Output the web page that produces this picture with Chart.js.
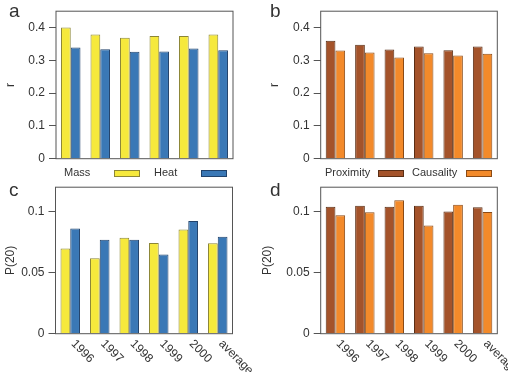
<!DOCTYPE html>
<html>
<head>
<meta charset="utf-8">
<script src="https://cdn.jsdelivr.net/npm/chart.js@4/dist/chart.umd.min.js"></script>
<style>
  html, body { margin: 0; padding: 0; background: #fff; }
  #wrap { position: relative; width: 508px; height: 372px; overflow: hidden; }
  .panel { position: absolute; }
</style>
</head>
<body>
<div id="wrap">
  <div class="panel" style="left:0;top:0;width:254px;height:186px"><canvas id="pa"></canvas></div>
  <div class="panel" style="left:254px;top:0;width:254px;height:186px"><canvas id="pb"></canvas></div>
  <div class="panel" style="left:0;top:176px;width:254px;height:196px"><canvas id="pc"></canvas></div>
  <div class="panel" style="left:254px;top:176px;width:254px;height:196px"><canvas id="pd"></canvas></div>
</div>
<script>
// data
const years = ['1996', '1997', '1998', '1999', '2000', 'average'];

const massR = [0.400, 0.379, 0.369, 0.374, 0.374, 0.379];
const heatR = [0.339, 0.334, 0.326, 0.327, 0.336, 0.331];
const proximityR = [0.360, 0.348, 0.333, 0.342, 0.331, 0.342];
const causalityR = [0.330, 0.324, 0.309, 0.322, 0.315, 0.320];

const massP = [0.0697, 0.0619, 0.0786, 0.0743, 0.0854, 0.0740];
const heatP = [0.0862, 0.0770, 0.0770, 0.0648, 0.0924, 0.0794];
const proximityP = [0.1040, 0.1049, 0.1040, 0.1049, 0.1000, 0.1035];
const causalityP = [0.0970, 0.0994, 0.1094, 0.0887, 0.1057, 0.0997];

const rTicks = [0, 0.1, 0.2, 0.3, 0.4];
const pTicks = [0, 0.05, 0.1];

const COLORS = {
  mass:      { fill: '#f6e93c', line: '#8c8636' },
  heat:      { fill: '#3a78b6', line: '#22436b' },
  proximity: { fill: '#a4532a', line: '#5a2e15' },
  causality: { fill: '#f38a2a', line: '#8a4a15' }
};

const FONT = '"Liberation Sans", Arial, Helvetica, sans-serif';
const TEXT = '#333';

Chart.defaults.font.family = FONT;
Chart.defaults.color = TEXT;

// frame, panel letter, axis title, rotated year labels, legend
const decorPlugin = {
  id: 'decor',
  afterDraw(chart) {
    const o = chart.options.plugins.decor;
    const { ctx, chartArea: a } = chart;
    ctx.save();

    ctx.strokeStyle = '#555';
    ctx.lineWidth = 1;
    ctx.strokeRect(a.left, a.top, a.right - a.left, a.bottom - a.top);

    ctx.fillStyle = TEXT;
    ctx.font = '19px ' + FONT;
    ctx.textAlign = 'left';
    ctx.textBaseline = 'alphabetic';
    ctx.fillText(o.letter, o.letterX, o.letterY);

    ctx.font = '12px ' + FONT;
    ctx.save();
    ctx.translate(o.titleX, (a.top + a.bottom) / 2);
    ctx.rotate(-Math.PI / 2);
    ctx.textAlign = 'center';
    ctx.textBaseline = 'middle';
    ctx.fillText(o.title, 0, 0);
    ctx.restore();

    if (o.yearLabels) {
      const x = chart.scales.x;
      years.forEach((lab, i) => {
        ctx.save();
        ctx.translate(x.getPixelForValue(i) + 7, a.bottom + 4);
        ctx.rotate(Math.PI / 4);
        ctx.textAlign = 'left';
        ctx.textBaseline = 'top';
        ctx.fillText(lab, 0, 0);
        ctx.restore();
      });
    }

    if (o.legend) {
      ctx.font = '11px ' + FONT;
      ctx.textBaseline = 'middle';
      chart.data.datasets.forEach((ds, i) => {
        const it = o.legend[i];
        ctx.fillStyle = TEXT;
        ctx.fillText(ds.label, it.textX, o.legendY);
        ctx.fillStyle = ds.backgroundColor;
        ctx.fillRect(it.boxX, o.legendY - 3, 25, 6);
        ctx.strokeStyle = ds.borderColor;
        ctx.strokeRect(it.boxX + 0.5, o.legendY - 3 + 0.5, 25, 6);
      });
    }
    ctx.restore();
  }
};

function makePanel(id, cfg) {
  const ds = (label, data, c) => ({
    label, data,
    backgroundColor: c.fill,
    borderColor: c.line,
    borderWidth: 1,
    barPercentage: 1,
    categoryPercentage: 0.66
  });

  new Chart(document.getElementById(id), {
    type: 'bar',
    data: {
      labels: years,
      datasets: [ds(cfg.names[0], cfg.first, cfg.colors[0]), ds(cfg.names[1], cfg.second, cfg.colors[1])]
    },
    options: {
      responsive: true,
      maintainAspectRatio: false,
      animation: false,
      layout: { padding: { top: cfg.top, right: cfg.right, bottom: 0, left: 0 } },
      plugins: {
        legend: { display: false },
        tooltip: { enabled: false },
        decor: cfg.decor
      },
      scales: {
        x: {
          grid: { display: false },
          border: { display: false },
          ticks: { display: false },
          afterFit: s => { s.height = cfg.xHeight; }
        },
        y: {
          min: 0,
          max: cfg.max,
          grid: { drawOnChartArea: false, drawTicks: true, tickLength: 7, color: '#555' },
          border: { display: false },
          ticks: { padding: 4, font: { size: 12 }, color: TEXT, callback: v => String(v) },
          afterBuildTicks: s => { s.ticks = cfg.ticks.map(v => ({ value: v })); },
          afterFit: s => { s.width = cfg.left; }
        }
      }
    },
    plugins: [decorPlugin]
  });
}

makePanel('pa', {
  names: ['Mass', 'Heat'], first: massR, second: heatR,
  colors: [COLORS.mass, COLORS.heat],
  max: 0.45, ticks: rTicks,
  left: 56, right: 21, top: 10, xHeight: 186 - 158.7,
  decor: {
    letter: 'a', letterX: 9, letterY: 17, title: 'r', titleX: 11,
    legendY: 173,
    legend: [{ textX: 64, boxX: 114 }, { textX: 154, boxX: 201 }]
  }
});

makePanel('pb', {
  names: ['Proximity', 'Causality'], first: proximityR, second: causalityR,
  colors: [COLORS.proximity, COLORS.causality],
  max: 0.45, ticks: rTicks,
  left: 66.7, right: 10.7, top: 10, xHeight: 186 - 158.7,
  decor: {
    letter: 'b', letterX: 16, letterY: 17, title: 'r', titleX: 21,
    legendY: 173,
    legend: [{ textX: 71, boxX: 124 }, { textX: 158, boxX: 212 }]
  }
});

makePanel('pc', {
  names: ['Mass', 'Heat'], first: massP, second: heatP,
  colors: [COLORS.mass, COLORS.heat],
  max: 0.12, ticks: pTicks,
  left: 55.5, right: 21.5, top: 9.6, xHeight: 196 - 157.7,
  decor: {
    letter: 'c', letterX: 9, letterY: 20, title: 'P(20)', titleX: 11,
    yearLabels: true
  }
});

makePanel('pd', {
  names: ['Proximity', 'Causality'], first: proximityP, second: causalityP,
  colors: [COLORS.proximity, COLORS.causality],
  max: 0.12, ticks: pTicks,
  left: 66.7, right: 10.7, top: 9.6, xHeight: 196 - 157.7,
  decor: {
    letter: 'd', letterX: 16, letterY: 20, title: 'P(20)', titleX: 14,
    yearLabels: true
  }
});
</script>
</body>
</html>
